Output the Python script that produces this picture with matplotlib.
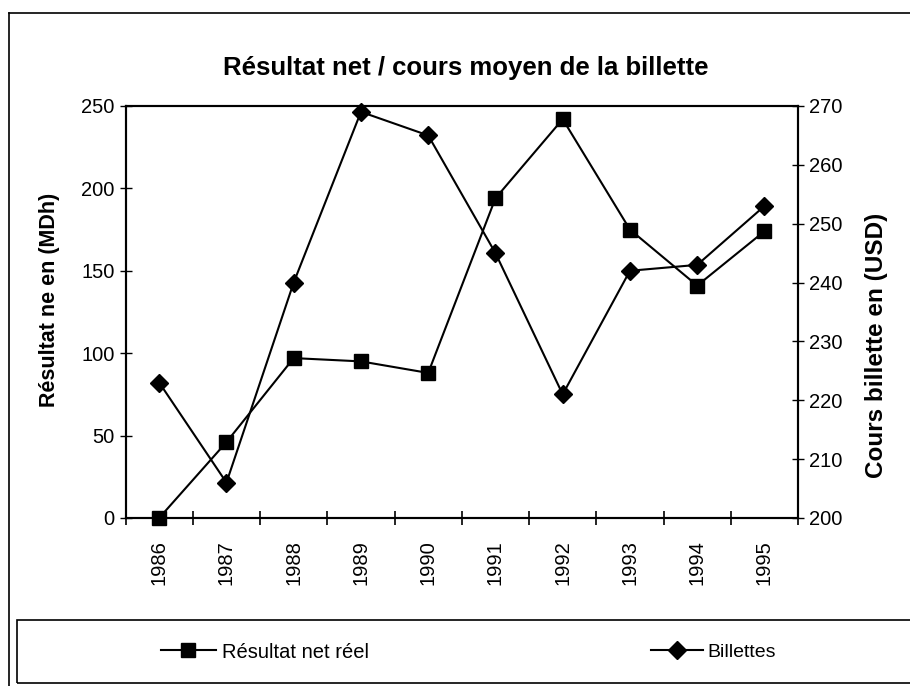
import matplotlib
matplotlib.use("Agg")
import matplotlib.pyplot as plt
from matplotlib.lines import Line2D
from matplotlib.patches import Rectangle
import numpy as np

plt.rcParams['font.family'] = ['Liberation Sans', 'DejaVu Sans']

years = ['1986', '1987', '1988', '1989', '1990', '1991', '1992', '1993', '1994', '1995']
resultat_net = [0, 46, 97, 95, 88, 194, 242, 175, 141, 174]
billettes = [223, 206, 240, 269, 265, 245, 221, 242, 243, 253]
left_ticks = [0, 50, 100, 150, 200, 250]
right_ticks = [200, 210, 220, 230, 240, 250, 260, 270]

fig = plt.figure(figsize=(9.1, 6.86), dpi=100)
ax = fig.add_axes([0.138, 0.245, 0.739, 0.6005])
ax2 = ax.twinx()

x = np.arange(len(years))
ax.plot(x, resultat_net, color='black', lw=1.5, marker='s', ms=9.5,
        clip_on=False, zorder=3)
ax2.plot(x, billettes, color='black', lw=1.5, marker='D', ms=9,
         clip_on=False, zorder=3)

ax.set_xlim(-0.5, len(years) - 0.5)
ax.set_ylim(0, 250)
ax2.set_ylim(200, 270)
ax.set_yticks(left_ticks)
ax.set_yticklabels([str(v) for v in left_ticks], fontsize=14.5)
ax2.set_yticks(right_ticks)
ax2.set_yticklabels([str(v) for v in right_ticks], fontsize=14.5)

ax.set_xticks(x)
ax.set_xticklabels(years, rotation=90, fontsize=14.5)
ax.tick_params(axis='x', which='major', length=0, pad=16)
ax.set_xticks(np.arange(-0.5, len(years) + 0.5, 1.0), minor=True)
ax.tick_params(axis='x', which='minor', direction='inout', length=10, width=1.2)
ax.tick_params(axis='y', direction='inout', length=8, width=1.0, pad=4)
ax2.tick_params(axis='y', direction='inout', length=8, width=1.0, pad=4)

for a in (ax, ax2):
    for s in a.spines.values():
        s.set_linewidth(1.5)

ax.set_ylabel('Résultat ne en (MDh)', fontsize=15.5, fontweight='bold')
ax2.set_ylabel('Cours billette en (USD)', fontsize=17.5, fontweight='bold')
ax.yaxis.set_label_coords(-0.097, 0.53)
ax2.yaxis.set_label_coords(1.099, 0.42)

fig.text(0.512, 0.901, 'Résultat net / cours moyen de la billette',
         ha='center', va='center', fontsize=18.5, fontweight='bold')

# outer frame
fig.add_artist(Line2D([9/910, 9/910], [1 - 13/686, 0], transform=fig.transFigure,
                      color='black', lw=1.2))
fig.add_artist(Line2D([9/910, 1], [1 - 13/686, 1 - 13/686], transform=fig.transFigure,
                      color='black', lw=1.2))

# legend box
fig.add_artist(Rectangle((17/910, 1 - 683/686), 1.0, (683 - 620)/686,
                         transform=fig.transFigure, fill=False, ec='black', lw=1.2))
h1 = Line2D([], [], color='black', lw=1.5, marker='s', ms=9.5)
h2 = Line2D([], [], color='black', lw=1.5, marker='D', ms=9)
fig.legend([h1], ['Résultat net réel'], loc='center left',
           bbox_to_anchor=(143/910, 1 - 652/686), frameon=False, fontsize=14.5,
           handlelength=2.7, handletextpad=0.3)
fig.legend([h2], ['Billettes'], loc='center left',
           bbox_to_anchor=(633/910, 1 - 652/686), frameon=False, fontsize=14,
           handlelength=2.7, handletextpad=0.2)

fig.savefig('out.png', dpi=100)
